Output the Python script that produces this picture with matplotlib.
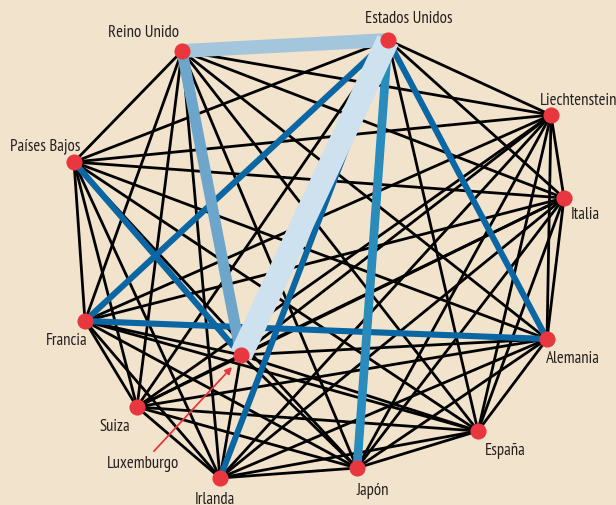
import matplotlib
matplotlib.use("Agg")
import matplotlib.pyplot as plt
from matplotlib import font_manager as fm
from itertools import combinations

# ---- data ----
countries = ["Reino Unido", "Estados Unidos", "Liechtenstein", "Italia", "Alemania",
             "España", "Japón", "Irlanda", "Suiza", "Francia", "Países Bajos", "Luxemburgo"]
# network layout (node positions, pixel-like units)
node_x = [182, 388, 551, 564, 547, 478, 357, 220, 137, 85, 74, 241]
node_y = [52, 41, 116, 199, 340, 432, 469, 479, 408, 322, 163, 356]

# highlighted links (source, target, strength class)
strong_src = ["Estados Unidos", "Estados Unidos", "Países Bajos", "Francia", "Estados Unidos",
              "Estados Unidos", "Reino Unido", "Reino Unido", "Estados Unidos"]
strong_dst = ["Alemania", "Francia", "Luxemburgo", "Alemania", "Irlanda",
              "Japón", "Luxemburgo", "Estados Unidos", "Luxemburgo"]
strong_lvl = [1, 1, 1, 1, 1, 2, 3, 4, 5]

# ---- styles ----
bg = "#f2e4cc"
node_col = "#e8373f"
txt_col = "#231f20"
lvl_width = {0: 2.0, 1: 4.4, 2: 6.3, 3: 8.0, 4: 10.0, 5: 16.5}
lvl_color = {0: "black", 1: "#0a67a3", 2: "#2a8bbd", 3: "#6ea6cb", 4: "#a4c6dd", 5: "#cde1ef"}

label_pos = {  # (x, y, ha) absolute label anchor in layout units
    "Reino Unido": (143, 33, "center"),
    "Estados Unidos": (409, 19, "center"),
    "Liechtenstein": (540, 101, "left"),
    "Italia": (571, 215, "left"),
    "Alemania": (546, 359, "left"),
    "España": (485, 451, "left"),
    "Japón": (373, 491, "center"),
    "Irlanda": (215, 500, "center"),
    "Suiza": (115, 427, "center"),
    "Francia": (67, 341, "center"),
    "Países Bajos": (45, 146, "center"),
}

available = {f.name for f in fm.fontManager.ttflist}
prefs = ["PT Sans Narrow", "Fira Sans Condensed", "Open Sans Condensed", "Roboto Condensed",
         "Archivo Narrow", "Asap Condensed", "Barlow Condensed"]
family = [p for p in prefs if p in available][:1] + ["DejaVu Sans"]
plt.rcParams['font.family'] = family

fig = plt.figure(figsize=(6.16, 5.06), dpi=100, facecolor=bg)
ax = fig.add_axes([0, 0, 1, 1])
ax.set_facecolor(bg)
ax.set_xlim(0, 616)
ax.set_ylim(506, 0)
ax.axis("off")

idx = {c: i for i, c in enumerate(countries)}
strong = {}
for s, d, l in zip(strong_src, strong_dst, strong_lvl):
    strong[frozenset((s, d))] = l

edges = []
for a, b in combinations(countries, 2):
    lvl = strong.get(frozenset((a, b)), 0)
    edges.append((lvl, a, b))
edges.sort(key=lambda e: e[0])

for lvl, a, b in edges:
    i, j = idx[a], idx[b]
    ax.plot([node_x[i], node_x[j]], [node_y[i], node_y[j]],
            color=lvl_color[lvl], lw=lvl_width[lvl], solid_capstyle="butt", zorder=1 + lvl)

ax.scatter(node_x, node_y, s=135, color=node_col, zorder=10, linewidths=0)

for c, (x, y, ha) in label_pos.items():
    ax.text(x, y, c, ha=ha, va="center", fontsize=12, color=txt_col, zorder=11)

# Luxemburgo label with arrow
li = idx["Luxemburgo"]
ax.annotate("Luxemburgo", xy=(node_x[li] - 9, node_y[li] + 12), xytext=(143, 464),
            ha="center", va="center", fontsize=12, color=txt_col, zorder=11,
            arrowprops=dict(arrowstyle="-|>", color=node_col, lw=1.3,
                            shrinkA=1, shrinkB=0, mutation_scale=10))

fig.savefig("out.png", dpi=100, facecolor=bg)
